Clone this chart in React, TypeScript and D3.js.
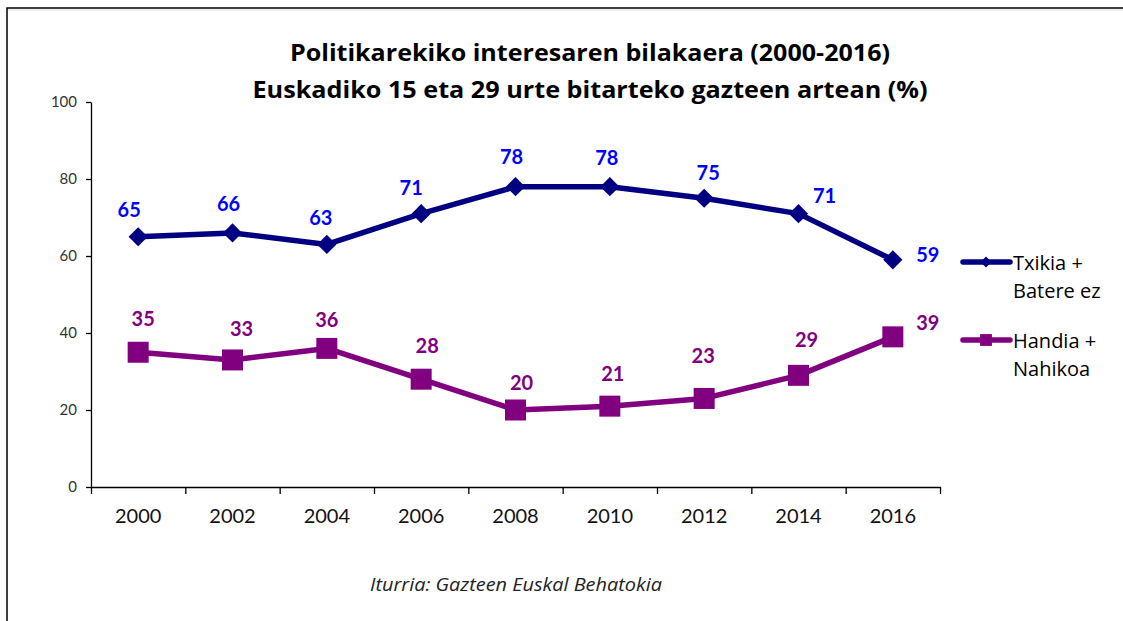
import React, { useEffect, useRef } from "react";
import * as d3 from "d3";

const years = ["2000", "2002", "2004", "2006", "2008", "2010", "2012", "2014", "2016"];
const txikia = [65, 66, 63, 71, 78, 78, 75, 71, 59];
const handia = [35, 33, 36, 28, 20, 21, 23, 29, 39];
const yTicks = [0, 20, 40, 60, 80, 100];
const seriesNames = [["Txikia +", "Batere ez"], ["Handia +", "Nahikoa"]];
const titleLines = [
  "Politikarekiko interesaren bilakaera (2000-2016)",
  "Euskadiko 15 eta 29 urte bitarteko gazteen artean  (%)",
];
const sourceText = "Iturria: Gazteen Euskal Behatokia";

// label offsets (layout only)
const txikiaLabelOffsets = [[-9, -27], [-4, -29], [-6, -26], [-10, -26], [-4, -30], [-3, -29], [4, -25], [26, -18], [35, -5]];
const handiaLabelOffsets = [[5, -33], [9, -31], [0, -28], [6, -33], [6, -27], [3, -32], [-1, -42], [8, -35], [35, -14]];

const W = 1123, H = 621;
const FONT = "Lato, 'Open Sans', sans-serif";
const TFONT = "'Open Sans', Lato, sans-serif";

export default function App() {
  const ref = useRef<SVGSVGElement>(null);
  useEffect(() => {
    const svg = d3.select(ref.current);
    svg.selectAll("*").remove();

    const x0 = 91, x1 = 940, yTop = 102, yBot = 487;
    const x = d3.scaleBand().domain(years).range([x0, x1]).paddingInner(0).paddingOuter(0);
    const xEdge = d3.scaleLinear().domain([0, years.length]).range([x0, x1]);
    const y = d3.scaleLinear().domain([0, 100]).range([yBot, yTop]);
    const cx = (i: number) => (x(years[i]) as number) + x.bandwidth() / 2;

    // frame
    svg.append("path").attr("d", `M7,${H + 5} V8 H${W + 5}`).attr("fill", "none").attr("stroke", "#000").attr("stroke-width", 1.5);
    svg.append("line").attr("x1", 8).attr("x2", W).attr("y1", 10).attr("y2", 10).attr("stroke", "#ddd").attr("stroke-width", 1);

    // title
    const titleWidths = [600, 675];
    titleLines.forEach((t, i) =>
      svg.append("text").attr("x", 590).attr("y", 61 + i * 37).attr("text-anchor", "middle")
        .attr("font-family", TFONT).attr("font-weight", "bold").attr("font-size", 24).attr("fill", "#000")
        .attr("textLength", titleWidths[i]).attr("lengthAdjust", "spacingAndGlyphs").text(t));

    // y axis
    const gy = svg.append("g").attr("transform", `translate(${x0},0)`)
      .call(d3.axisLeft(y).tickValues(yTicks).tickSize(5).tickSizeOuter(0).tickPadding(9));
    gy.select(".domain").attr("stroke", "#000").attr("stroke-width", 1.3);
    gy.selectAll(".tick line").attr("stroke", "#000").attr("stroke-width", 1.3);
    gy.selectAll(".tick text").attr("font-family", FONT).attr("font-size", 15).attr("fill", "#333");

    // x axis ticks at band edges
    const gx = svg.append("g").attr("transform", `translate(0,${yBot})`)
      .call(d3.axisBottom(xEdge).tickValues(d3.range(years.length + 1)).tickSize(7).tickSizeOuter(0).tickFormat(() => ""));
    gx.select(".domain").attr("stroke", "#000").attr("stroke-width", 1.3);
    gx.selectAll(".tick line").attr("stroke", "#000").attr("stroke-width", 1.3);
    // x labels
    const gxl = svg.append("g").attr("transform", `translate(0,${yBot})`)
      .call(d3.axisBottom(x).tickSize(0).tickPadding(22));
    gxl.select(".domain").remove();
    gxl.selectAll(".tick text").attr("font-family", FONT).attr("font-size", 20).attr("fill", "#111");

    const series = [
      { vals: txikia, color: "#000080", label: "#0000FF", off: txikiaLabelOffsets, shape: "diamond" },
      { vals: handia, color: "#800080", label: "#800080", off: handiaLabelOffsets, shape: "square" },
    ];
    const line = d3.line<number>().x((_, i) => cx(i)).y((v) => y(v));
    const diamond = d3.symbol().type(d3.symbolSquare).size(185);
    const square = d3.symbol().type(d3.symbolSquare).size(441);

    series.forEach((s) => {
      svg.append("path").datum(s.vals).attr("d", line).attr("fill", "none").attr("stroke", s.color).attr("stroke-width", 5.5).attr("stroke-linejoin", "round");
      s.vals.forEach((v, i) => {
        const p = svg.append("path").attr("fill", s.color);
        if (s.shape === "diamond") p.attr("d", diamond()).attr("transform", `translate(${cx(i)},${y(v)}) rotate(45)`);
        else p.attr("d", square()).attr("transform", `translate(${cx(i)},${y(v)})`);
        svg.append("text").attr("x", cx(i) + s.off[i][0]).attr("y", y(v) + s.off[i][1]).attr("dy", "0.35em")
          .attr("text-anchor", "middle").attr("font-family", FONT).attr("font-weight", "bold").attr("font-size", 20)
          .attr("fill", s.label).text(String(v));
      });
    });

    // legend
    const legY = [262, 340];
    series.forEach((s, k) => {
      svg.append("line").attr("x1", 963).attr("x2", 1010).attr("y1", legY[k]).attr("y2", legY[k]).attr("stroke", s.color).attr("stroke-width", 5.5).attr("stroke-linecap", "round");
      if (s.shape === "diamond") svg.append("path").attr("d", d3.symbol().type(d3.symbolSquare).size(60)()).attr("fill", s.color).attr("transform", `translate(986,${legY[k]}) rotate(45)`);
      else svg.append("path").attr("d", d3.symbol().type(d3.symbolSquare).size(140)()).attr("fill", s.color).attr("transform", `translate(986,${legY[k]})`);
      seriesNames[k].forEach((n, j) =>
        svg.append("text").attr("x", 1013).attr("y", legY[k] + 8 + j * 28).attr("font-family", TFONT).attr("font-size", 20).attr("fill", "#000").text(n));
    });

    // source
    svg.append("text").attr("x", 370).attr("y", 591).attr("font-family", TFONT).attr("font-style", "italic").attr("font-size", 18).attr("fill", "#222")
      .attr("textLength", 292).attr("lengthAdjust", "spacingAndGlyphs").text(sourceText);
  }, []);

  return (
    <svg ref={ref} width={W} height={H} style={{ position: "absolute", left: 0, top: 0, background: "#fff" }} />
  );
}
